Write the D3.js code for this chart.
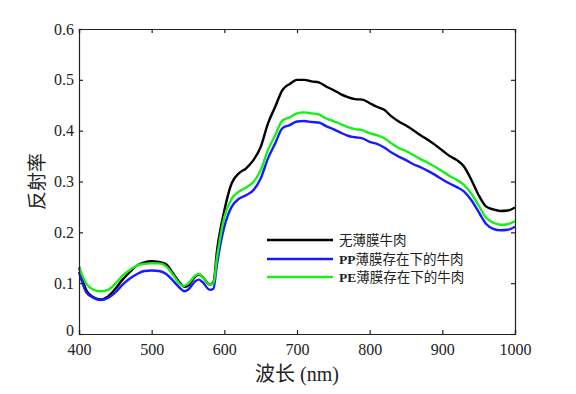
<!DOCTYPE html>
<html>
<head>
<meta charset="utf-8">
<script src="https://cdn.jsdelivr.net/npm/d3@7"></script>
<style>
  body { margin: 0; background: #fff; }
  text { font-family: "Liberation Serif", "Times New Roman", serif; fill: #222; }
  .cjk { font-family: "Noto Sans CJK SC", sans-serif; }
</style>
</head>
<body>
<div class="canvas"></div>
<script>
// wavelength (nm)
const wavelengths = [400,410,420,430,440,450,460,470,480,490,500,510,520,530,540,545,550,560,565,570,580,585,590,
  600,610,620,630,640,650,660,670,680,690,700,710,720,730,740,750,760,770,780,790,800,810,820,830,840,850,860,870,
  880,890,900,910,920,930,940,950,960,970,980,990,1000];

// 无薄膜牛肉
const noFilm = [0.132,0.086,0.072,0.068,0.074,0.089,0.107,0.122,0.135,0.141,0.143,0.142,0.137,0.118,0.099,0.093,0.095,
  0.113,0.117,0.112,0.097,0.102,0.165,0.243,0.296,0.316,0.326,0.342,0.368,0.414,0.447,0.480,0.492,0.500,0.500,0.497,
  0.495,0.487,0.480,0.472,0.466,0.462,0.461,0.454,0.447,0.441,0.428,0.418,0.410,0.401,0.391,0.382,0.372,0.361,0.350,
  0.342,0.329,0.303,0.273,0.251,0.245,0.242,0.243,0.249];

// PP薄膜存在下的牛肉
const ppFilm = [0.122,0.082,0.071,0.067,0.071,0.082,0.097,0.109,0.118,0.124,0.125,0.124,0.118,0.104,0.089,0.084,0.087,
  0.104,0.107,0.102,0.087,0.089,0.138,0.211,0.250,0.266,0.273,0.283,0.306,0.345,0.375,0.405,0.411,0.418,0.419,0.417,
  0.416,0.409,0.403,0.396,0.390,0.387,0.385,0.378,0.374,0.367,0.357,0.349,0.342,0.334,0.328,0.321,0.313,0.304,0.296,
  0.289,0.280,0.263,0.240,0.217,0.207,0.204,0.205,0.211];

// PE薄膜存在下的牛肉
const peFilm = [0.132,0.099,0.087,0.084,0.087,0.099,0.115,0.126,0.135,0.138,0.139,0.139,0.133,0.115,0.097,0.095,0.099,
  0.115,0.118,0.112,0.097,0.100,0.151,0.230,0.266,0.280,0.288,0.299,0.322,0.362,0.391,0.420,0.426,0.434,0.436,0.434,
  0.432,0.424,0.419,0.413,0.407,0.403,0.401,0.395,0.391,0.385,0.375,0.366,0.360,0.352,0.344,0.337,0.329,0.320,0.311,
  0.303,0.293,0.276,0.253,0.229,0.219,0.215,0.216,0.222];

const seriesNames = ['无薄膜牛肉', 'PP薄膜存在下的牛肉', 'PE薄膜存在下的牛肉'];
const seriesColors = ['#000000', '#1a1aff', '#1aee1a'];
const xTicks = [400,500,600,700,800,900,1000];
const yTicks = [0,0.1,0.2,0.3,0.4,0.5,0.6];

const width = 576, height = 394;
const margin = { top: 29, right: 61, bottom: 60, left: 79 };
const graphWidth = width - margin.left - margin.right;
const graphHeight = height - margin.top - margin.bottom;

const svg = d3.select('.canvas')
  .append('svg')
  .attr('width', width)
  .attr('height', height);

const graph = svg.append('g')
  .attr('transform', `translate(${margin.left}, ${margin.top})`);

const x = d3.scaleLinear().domain([400, 1000]).range([0, graphWidth]);
const y = d3.scaleLinear().domain([0, 0.6]).range([graphHeight, 0]);

// lines
const line = d3.line()
  .x((d, i) => x(wavelengths[i]))
  .y(d => y(d))
  .curve(d3.curveMonotoneX);

[noFilm, ppFilm, peFilm].forEach((vals, i) => {
  graph.append('path')
    .datum(vals)
    .attr('d', line)
    .attr('fill', 'none')
    .attr('stroke', seriesColors[i])
    .attr('stroke-width', 2.4)
    .attr('stroke-linejoin', 'round');
});

// axes, ticks inward on all sides
const xAxis = d3.axisBottom(x).tickValues(xTicks).tickSize(-4).tickPadding(9).tickFormat(d3.format('d'));
const yAxis = d3.axisLeft(y).tickValues(yTicks).tickSize(-4).tickPadding(5).tickFormat(d => d === 0 ? '0' : d3.format('.1f')(d));
const xTop = d3.axisTop(x).tickValues(xTicks).tickSize(-4).tickFormat('');
const yRight = d3.axisRight(y).tickValues(yTicks).tickSize(-4).tickFormat('');

const xg = graph.append('g').attr('transform', `translate(0, ${graphHeight})`).call(xAxis);
const yg = graph.append('g').call(yAxis);
const tg = graph.append('g').call(xTop);
const rg = graph.append('g').attr('transform', `translate(${graphWidth}, 0)`).call(yRight);

[xg, yg, tg, rg].forEach(g => {
  g.selectAll('path').attr('stroke', '#222').attr('stroke-width', 1.2);
  g.selectAll('line').attr('stroke', '#222').attr('stroke-width', 1.2);
  g.selectAll('text').attr('font-size', 16).attr('fill', '#222')
    .attr('font-family', '"Liberation Serif", serif');
});
yg.selectAll('text').attr('dy', d => d === 0 ? '0.12em' : '0.32em');
xg.selectAll('text').attr('dy', '0.72em');

// axis labels
svg.append('text')
  .attr('x', margin.left + graphWidth / 2)
  .attr('y', 381)
  .attr('text-anchor', 'middle')
  .attr('font-size', 20)
  .html('<tspan class="cjk">波长</tspan> (nm)');

svg.append('text')
  .attr('class', 'cjk')
  .attr('transform', `translate(44, ${margin.top + graphHeight / 2}) rotate(-90)`)
  .attr('text-anchor', 'middle')
  .attr('font-size', 19)
  .text('反射率');

// legend
const legendY = [240, 259, 277];
const legend = svg.append('g');
seriesNames.forEach((name, i) => {
  legend.append('line')
    .attr('x1', 267).attr('x2', 333)
    .attr('y1', legendY[i]).attr('y2', legendY[i])
    .attr('stroke', seriesColors[i])
    .attr('stroke-width', 2.4);
  const t = legend.append('text')
    .attr('x', 339)
    .attr('y', legendY[i])
    .attr('dy', '0.35em')
    .attr('font-size', 13.5);
  const m = name.match(/^([A-Z]*)(.*)$/);
  if (m[1]) t.append('tspan').attr('font-weight', 'bold').text(m[1]);
  t.append('tspan').attr('class', 'cjk').text(m[2]);
});
</script>
</body>
</html>
